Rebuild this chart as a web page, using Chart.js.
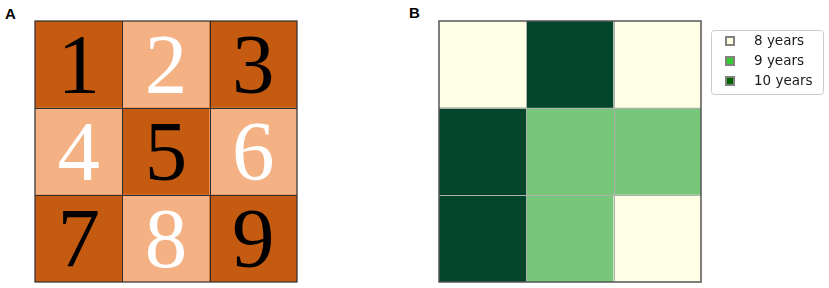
<!DOCTYPE html>
<html><head><meta charset="utf-8">
<script src="https://cdn.jsdelivr.net/npm/chart.js@4/dist/chart.umd.min.js"></script>
<style>
html,body{margin:0;padding:0;background:#fff;width:829px;height:288px;overflow:hidden}
canvas{position:absolute;top:0}
.lbl{position:absolute;font-family:"Liberation Sans",Arial,sans-serif;font-weight:bold;font-size:15px;line-height:16px;color:#000}
</style></head><body>
<div class="lbl" style="left:5px;top:6px">A</div>
<div class="lbl" style="left:409px;top:5px">B</div>
<canvas id="cA" width="414" height="288" style="left:0;width:414px;height:288px"></canvas>
<canvas id="cB" width="415" height="288" style="left:414px;width:415px;height:288px"></canvas>
<script>
// ---- data ----
const columns = ['col 1', 'col 2', 'col 3'];
const rowNames = ['row 1', 'row 2', 'row 3'];           // top to bottom
const digitsA = [[1, 2, 3], [4, 5, 6], [7, 8, 9]];
const shadeA = [['dark', 'light', 'dark'], ['light', 'dark', 'light'], ['dark', 'light', 'dark']];
const yearsB = [[8, 10, 8], [10, 9, 9], [10, 9, 8]];
const legendLabels = ['8 years', '9 years', '10 years'];
const legendYears = [8, 9, 10];

// ---- styles ----
const shadeColors = { dark: '#c55a11', light: '#f4b183' };
const shadeText = { dark: '#000000', light: '#ffffff' };
const yearColors = { 8: '#ffffe5', 9: '#78c679', 10: '#03452a' };
const legendSwatch = { 8: '#ffffe0', 9: '#32cd32', 10: '#006400' };

function gridDatasets(colorFor) {
  const ds = [];
  for (let r = rowNames.length - 1; r >= 0; r--) {
    ds.push({
      label: rowNames[r],
      rowIndex: r,
      data: columns.map(() => 1),
      backgroundColor: columns.map((c, ci) => colorFor(r, ci)),
      borderWidth: 0,
      barPercentage: 1,
      categoryPercentage: 1
    });
  }
  return ds;
}

function gridLinesPlugin(inner, outer, innerW, outerW) {
  return {
    id: 'gridLines',
    afterDatasetsDraw(chart) {
      const { ctx, chartArea: a, scales } = chart;
      ctx.save();
      ctx.strokeStyle = inner; ctx.lineWidth = innerW;
      const n = columns.length, m = rowNames.length;
      for (let i = 1; i < n; i++) {
        const x = Math.round(a.left + (a.right - a.left) * i / n) + 0.5;
        ctx.beginPath(); ctx.moveTo(x, a.top); ctx.lineTo(x, a.bottom); ctx.stroke();
      }
      for (let j = 1; j < m; j++) {
        const y = Math.round(scales.y.getPixelForValue(j)) + 0.5;
        ctx.beginPath(); ctx.moveTo(a.left, y); ctx.lineTo(a.right, y); ctx.stroke();
      }
      ctx.strokeStyle = outer; ctx.lineWidth = outerW;
      ctx.strokeRect(a.left, a.top, a.right - a.left, a.bottom - a.top);
      ctx.restore();
    }
  };
}

const digitPlugin = {
  id: 'digits',
  afterDatasetsDraw(chart) {
    const ctx = chart.ctx;
    ctx.save();
    const size = 85;
    ctx.font = size + 'px "Liberation Serif", "DejaVu Serif", serif';
    ctx.textAlign = 'center';
    ctx.textBaseline = 'alphabetic';
    chart.data.datasets.forEach((ds, di) => {
      const meta = chart.getDatasetMeta(di);
      meta.data.forEach((el, ci) => {
        const r = ds.rowIndex;
        const cy = (el.y + el.base) / 2;
        ctx.fillStyle = shadeText[shadeA[r][ci]];
        ctx.fillText(String(digitsA[r][ci]), el.x, cy + size * 0.335);
      });
    });
    ctx.restore();
  }
};

const legendPlugin = {
  id: 'boxLegend',
  afterDraw(chart) {
    const { ctx, chartArea: a } = chart;
    ctx.save();
    const x0 = a.right + 10, y0 = a.top + 9, w = 112, h = 64;
    ctx.fillStyle = '#ffffff';
    ctx.strokeStyle = '#cccccc'; ctx.lineWidth = 1;
    ctx.beginPath();
    ctx.roundRect(x0 + 0.5, y0 + 0.5, w, h, 3);
    ctx.fill(); ctx.stroke();
    ctx.font = '13.5px "DejaVu Sans", sans-serif';
    ctx.textBaseline = 'middle';
    ctx.textAlign = 'left';
    legendLabels.forEach((lab, i) => {
      const cy = y0 + 11 + i * 20;
      ctx.fillStyle = '#808080';
      ctx.fillRect(x0 + 14, cy - 5, 10, 10);
      ctx.fillStyle = legendSwatch[legendYears[i]];
      ctx.fillRect(x0 + 16, cy - 3, 6, 6);
      ctx.fillStyle = '#1a1a1a';
      ctx.fillText(lab, x0 + 43, cy);
    });
    ctx.restore();
  }
};

function baseOptions(padding) {
  return {
    responsive: false,
    animation: false,
    devicePixelRatio: 1,
    layout: { padding },
    plugins: { legend: { display: false }, tooltip: { enabled: false } },
    scales: {
      x: { type: 'category', stacked: true, display: false },
      y: { type: 'linear', stacked: true, min: 0, max: rowNames.length, display: false }
    }
  };
}

new Chart(document.getElementById('cA'), {
  type: 'bar',
  data: { labels: columns, datasets: gridDatasets((r, c) => shadeColors[shadeA[r][c]]) },
  options: baseOptions({ left: 35, top: 21, right: 117, bottom: 6 }),
  plugins: [gridLinesPlugin('#2e2e2e', '#2e2e2e', 1, 1.2), digitPlugin]
});

new Chart(document.getElementById('cB'), {
  type: 'bar',
  data: { labels: columns, datasets: gridDatasets((r, c) => yearColors[yearsB[r][c]]) },
  options: baseOptions({ left: 25, top: 21, right: 128, bottom: 6 }),
  plugins: [gridLinesPlugin('#b0b0b0', '#555555', 1, 1.5), legendPlugin]
});
</script>
</body></html>
